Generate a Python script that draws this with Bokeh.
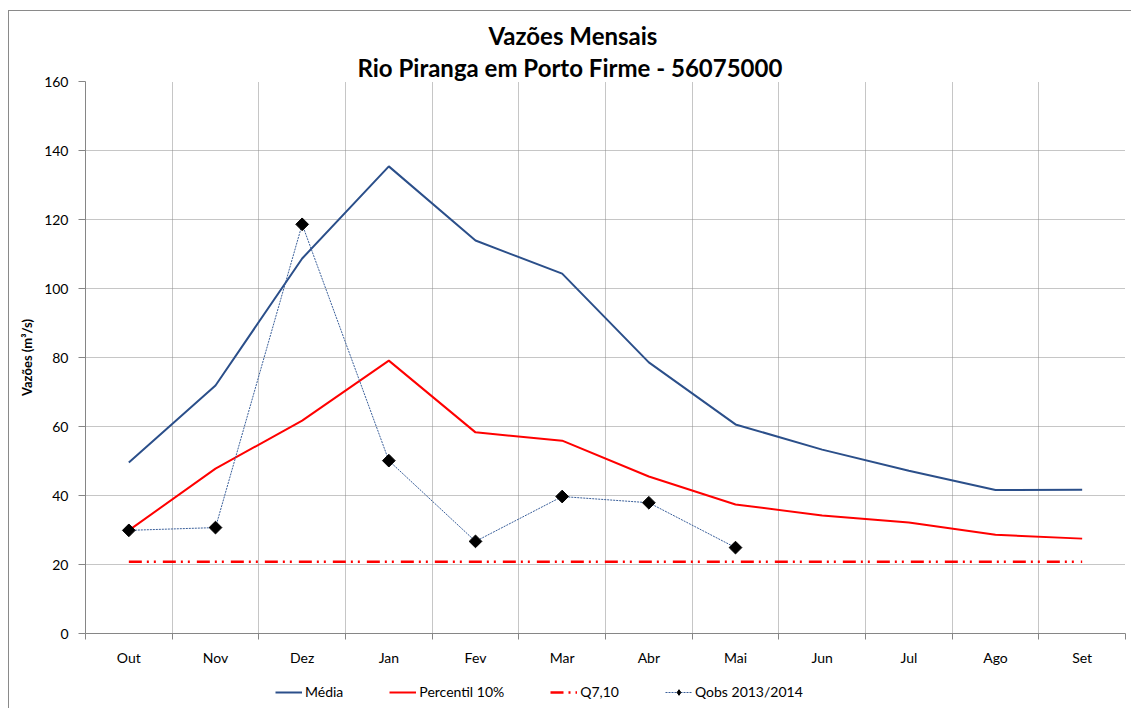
import numpy as np
from bokeh.plotting import figure
from bokeh.layouts import column
from bokeh.models import Range1d, FixedTicker, Title, Legend, LegendItem
from bokeh.embed import file_html
from bokeh.resources import INLINE

months = ["Out", "Nov", "Dez", "Jan", "Fev", "Mar", "Abr", "Mai", "Jun", "Jul", "Ago", "Set"]
media = [49.6, 71.9, 108.7, 135.4, 113.9, 104.3, 78.6, 60.6, 53.3, 47.2, 41.6, 41.7]
percentil10 = [29.9, 47.8, 61.7, 79.1, 58.3, 55.9, 45.5, 37.4, 34.2, 32.2, 28.6, 27.5]
q710 = [20.8, 20.8, 20.8, 20.8, 20.8, 20.8, 20.8, 20.8, 20.8, 20.8, 20.8, 20.8]
qobs = [29.9, 30.7, 118.6, 50.1, 26.7, 39.7, 37.9, 24.9]
y_ticks = [0, 20, 40, 60, 80, 100, 120, 140, 160]
legend_labels = ["Média", "Percentil 10%", "Q7,10", "Qobs 2013/2014"]

FONT = "Lato"

# styles
S_MEDIA = dict(line_color="#2B4F8A", line_width=2)
S_PERC = dict(line_color="#FF0000", line_width=2)
S_Q710 = dict(line_color="#FF0000", line_width=2.5, line_dash="13 5 2 5 2 7")
S_QOBS_L = dict(line_color="#3A5F9A", line_width=1, line_dash="2 1")
S_QOBS_M = dict(marker="square", angle=np.pi / 4, size=9, fill_color="black", line_color="black")
S_QOBS_LEG = dict(marker="diamond", size=14, fill_color="black", line_color="black")

xc = [i + 0.5 for i in range(len(months))]
bounds = list(range(len(months) + 1))

p = figure(width=1131, height=680, output_backend="svg", toolbar_location=None,
           x_range=Range1d(0, len(months)), y_range=Range1d(0, 160),
           min_border_left=85, min_border_right=6, min_border_top=81, min_border_bottom=47)
p.outline_line_color = None
p.background_fill_color = "white"
p.border_fill_color = None
p.styles = {"background": "linear-gradient(#8a8a8a,#8a8a8a) 8px 10px / 1px 700px no-repeat, "
                          "linear-gradient(#8a8a8a,#8a8a8a) 8px 10px / 1200px 1px no-repeat, white"}

# titles
t2 = Title(text="Rio Piranga em Porto Firme - 56075000", align="left", offset=272,
           text_font=FONT, text_font_size="24px", text_font_style="bold", text_color="black",
           standoff=0)
t1 = Title(text="Vazões Mensais", align="left", offset=403,
           text_font=FONT, text_font_size="24px", text_font_style="bold", text_color="black",
           standoff=2)
p.add_layout(t2, "above")
p.add_layout(t1, "above")

# grids
p.xgrid.ticker = FixedTicker(ticks=bounds)
p.ygrid.ticker = FixedTicker(ticks=y_ticks)
for g in (p.xgrid, p.ygrid):
    g.grid_line_color = "#8c8c8c"
    g.grid_line_dash = "1 1"
    g.grid_line_width = 1

# x axis
xa = p.xaxis[0]
xa.ticker = FixedTicker(ticks=xc, minor_ticks=bounds)
xa.major_label_overrides = {x: m for x, m in zip(xc, months)}
xa.major_tick_out = 0
xa.major_tick_in = 0
xa.minor_tick_out = 6
xa.minor_tick_in = 0
xa.minor_tick_line_color = "#868686"
xa.axis_line_color = "#868686"
xa.major_label_standoff = 9
xa.major_label_text_font = FONT
xa.major_label_text_font_size = "14px"
xa.major_label_text_color = "black"

# y axis
ya = p.yaxis[0]
ya.ticker = FixedTicker(ticks=y_ticks)
ya.major_tick_out = 7
ya.major_tick_in = 0
ya.minor_tick_line_color = None
ya.major_tick_line_color = "#868686"
ya.axis_line_color = "#868686"
ya.major_label_standoff = 10
ya.major_label_text_font = FONT
ya.major_label_text_font_size = "14px"
ya.major_label_text_color = "black"
ya.axis_label = "Vazões (m³/s)"
ya.axis_label_text_font = FONT
ya.axis_label_text_font_size = "13px"
ya.axis_label_text_font_style = "bold"
ya.axis_label_text_color = "black"
ya.axis_label_standoff = 6

p.line(xc, media, **S_MEDIA)
p.line(xc, percentil10, **S_PERC)
p.line(xc, q710, **S_Q710)
p.line(xc[:len(qobs)], qobs, **S_QOBS_L)
p.scatter(xc[:len(qobs)], qobs, **S_QOBS_M)

# legend strip below the chart (proxy renderers lie outside its visible range)
pl = figure(width=1131, height=28, output_backend="svg", toolbar_location=None,
            x_range=Range1d(-20, -19), y_range=Range1d(-20, -19),
            min_border_left=85, min_border_right=6, min_border_top=0, min_border_bottom=0)
pl.axis.visible = False
pl.grid.visible = False
pl.outline_line_color = None
pl.border_fill_color = None
pl.background_fill_color = None
pl.styles = {"background": "linear-gradient(#8a8a8a,#8a8a8a) 8px 0px / 1px 40px no-repeat, white"}
l_media = pl.line(xc, media, **S_MEDIA)
l_perc = pl.line(xc, percentil10, **S_PERC)
l_q710 = pl.line(xc, q710, **S_Q710)
l_qobs_l = pl.line(xc[:len(qobs)], qobs, **S_QOBS_L)
l_qobs_m = pl.scatter(xc[:len(qobs)], qobs, **S_QOBS_LEG)

legend = Legend(items=[
    LegendItem(label=legend_labels[0], renderers=[l_media]),
    LegendItem(label=legend_labels[1], renderers=[l_perc]),
    LegendItem(label=legend_labels[2], renderers=[l_q710]),
    LegendItem(label=legend_labels[3], renderers=[l_qobs_l, l_qobs_m]),
], orientation="horizontal", location=(190, 8))
legend.glyph_width = 27
legend.glyph_height = 14
legend.label_standoff = 3
legend.spacing = 46
legend.padding = 0
legend.margin = 0
legend.border_line_color = None
legend.background_fill_alpha = 0
legend.label_text_font = FONT
legend.label_text_font_size = "14px"
legend.label_text_color = "black"
pl.add_layout(legend, "center")

layout = column(p, pl, spacing=0)
open("out.html", "w").write(file_html(layout, INLINE))
